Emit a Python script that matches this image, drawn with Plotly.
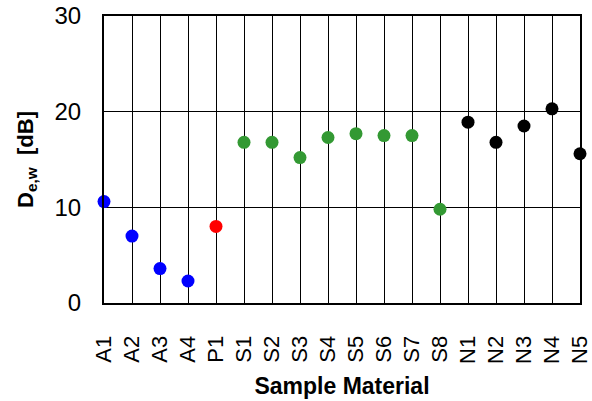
import plotly.graph_objects as go

categories = ["A1", "A2", "A3", "A4", "P1", "S1", "S2", "S3", "S4", "S5",
              "S6", "S7", "S8", "N1", "N2", "N3", "N4", "N5"]
values = [10.6, 7.0, 3.6, 2.3, 8.0, 16.8, 16.8, 15.2, 17.3, 17.7,
          17.5, 17.5, 9.8, 18.9, 16.8, 18.5, 20.3, 15.6]
groups = ["A"] * 4 + ["P"] + ["S"] * 8 + ["N"] * 5
group_colors = {"A": "#0000FF", "P": "#FF0000", "S": "#339933", "N": "#000000"}
y_ticks = [0, 10, 20, 30]

colors = [group_colors[g] for g in groups]

fig = go.Figure(go.Scatter(
    x=categories, y=values, mode="markers",
    marker=dict(color=colors, size=13),
    cliponaxis=False, showlegend=False,
))

font = "Liberation Sans, Arial, sans-serif"
fig.update_layout(
    width=592, height=401,
    margin=dict(l=104, r=12, t=16, b=98),
    paper_bgcolor="white", plot_bgcolor="white",
    font=dict(family=font, color="black"),
    xaxis=dict(
        type="category", categoryorder="array", categoryarray=categories,
        range=[0, len(categories) - 1], automargin=False,
        showgrid=True, gridcolor="black", gridwidth=1,
        showline=True, linecolor="black", linewidth=2, mirror=True,
        ticks="", tickangle=-90, tickfont=dict(size=22),
        ticklabelstandoff=22,
        title=dict(text="<b>Sample Material</b>", font=dict(size=23)),
    ),
    yaxis=dict(
        range=[0, 30], tickvals=y_ticks, automargin=False,
        showgrid=True, gridcolor="black", gridwidth=1,
        showline=True, linecolor="black", linewidth=2, mirror=True,
        ticks="", tickfont=dict(size=24), ticklabelstandoff=16,
        zeroline=False,
        title=dict(text="<b>D<sub>e,w</sub>  [dB]</b>", font=dict(size=22)),
    ),
)

fig.write_html(
    "out.html",
    config={"displayModeBar": False},
    post_script="document.body.style.margin='0';document.body.style.overflow='hidden';",
)
